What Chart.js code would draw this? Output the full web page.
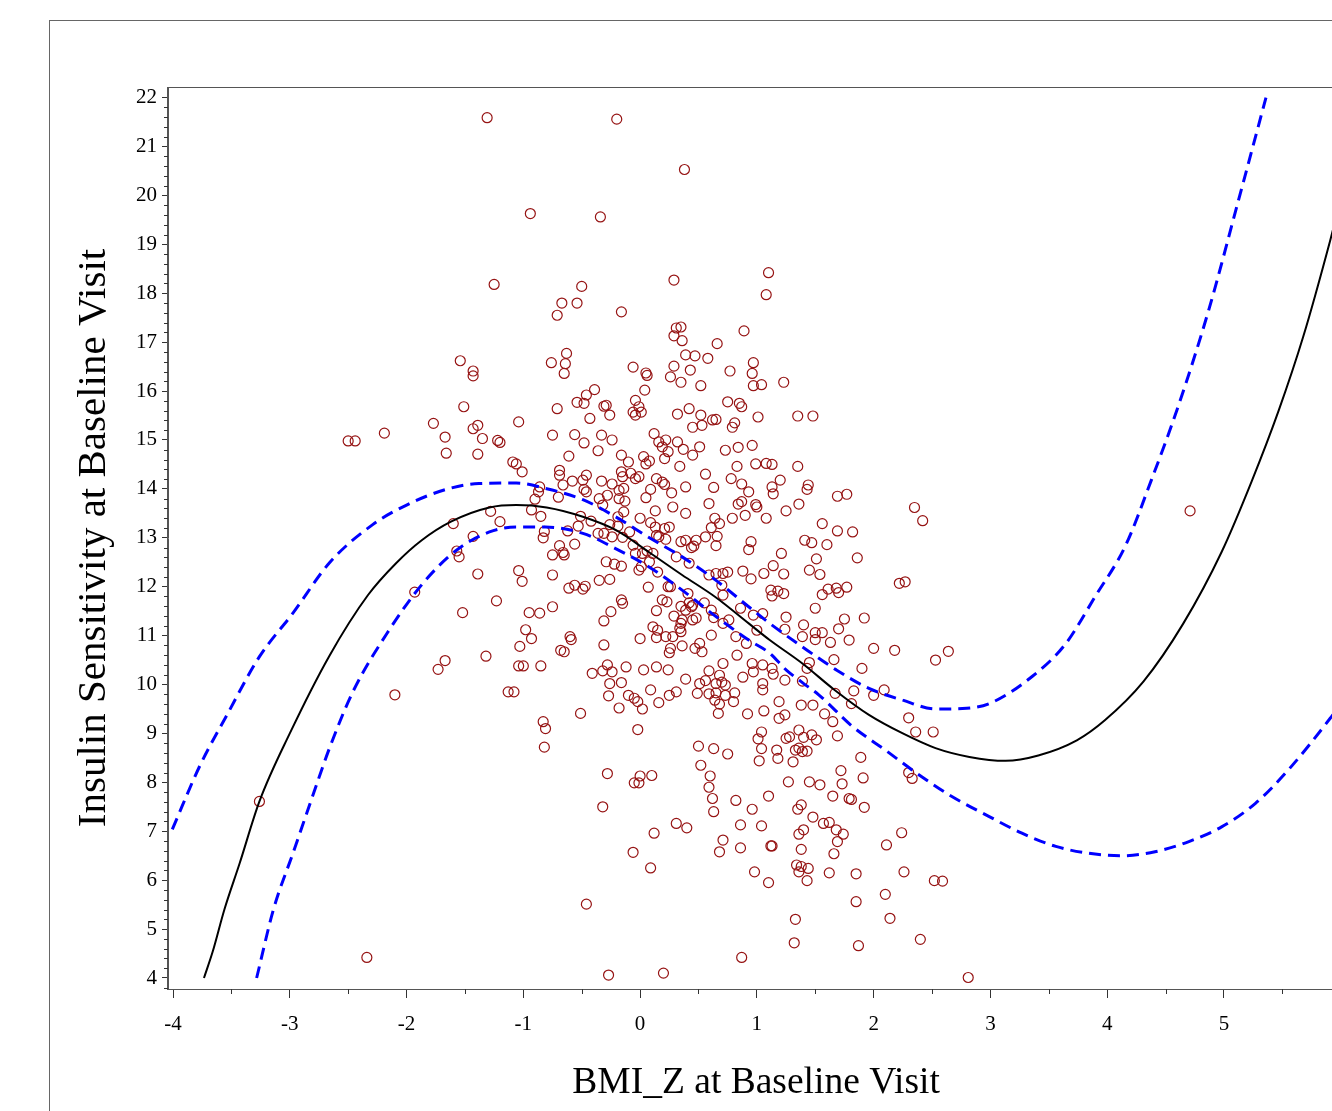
<!DOCTYPE html>
<html lang="en">
<head>
  <meta charset="UTF-8" />
  <title>Insulin Sensitivity vs BMI_Z</title>
  <style>
    html, body {
      margin: 0;
      padding: 0;
      background: #fff;
      overflow: hidden;
    }
    #wrap {
      position: relative;
      width: 1360px;
      height: 1111px;
    }
    canvas {
      display: block;
    }
  </style>
  <script src="https://cdn.jsdelivr.net/npm/chart.js"></script>
</head>
<body>
  <div id="wrap">
    <canvas id="fitChart" width="1360" height="1111"></canvas>
  </div>
  <script>
    // observed subjects: [BMI_Z, insulin sensitivity]
    const obs = [
      [-1.31,21.59],[-0.94,19.63],[-1.25,18.18],[-1.54,16.62],[-1.43,16.41],[-1.43,16.31],
      [-0.20,21.56],[0.38,20.53],[-0.34,19.56],[-0.50,18.14],[-0.67,17.80],[-0.54,17.80],
      [-0.71,17.55],[-0.16,17.62],[0.29,18.27],[1.10,18.42],[1.08,17.97],[0.35,17.31],
      [0.31,17.29],[0.29,17.13],[0.36,17.03],[0.66,16.97],[0.89,17.23],[-0.63,16.77],
      [-0.64,16.56],[-0.65,16.36],[-0.76,16.58],[-0.06,16.49],[0.05,16.37],[0.06,16.32],
      [0.39,16.74],[0.47,16.72],[0.58,16.67],[0.29,16.51],[0.26,16.29],[0.43,16.43],
      [0.35,16.18],[0.77,16.41],[0.97,16.58],[0.96,16.36],[0.97,16.11],[1.04,16.13],
      [0.52,16.11],[-0.39,16.03],[0.04,16.02],[1.23,16.18],
      [-1.51,15.68],[-1.77,15.34],[-2.19,15.14],[-2.50,14.98],[-2.44,14.98],[-1.39,15.30],
      [-1.43,15.23],[-1.67,15.06],[-1.35,15.03],[-1.22,14.99],[-1.20,14.95],[-1.04,15.37],
      [-1.66,14.73],[-1.39,14.71],[-1.09,14.55],[-1.06,14.51],[-1.01,14.35],[-0.86,14.04],
      [-0.87,13.94],[-0.90,13.79],[-0.93,13.57],[-0.85,13.44],[-1.28,13.54],[-1.20,13.33],
      [-1.60,13.29],[-1.43,13.03],[-0.82,13.13],[-0.83,13.00],[-1.57,12.73],[-1.55,12.61],
      [-1.39,12.26],[-1.04,12.33],[-1.01,12.11],[-1.93,11.89],[-1.23,11.71],[-1.52,11.47],
      [-0.95,11.47],[-0.86,11.46],[-0.98,11.12],[-0.93,10.94],[-1.03,10.78],[-1.32,10.58],
      [-1.67,10.49],[-1.73,10.31],[-1.04,10.38],[-1.00,10.38],[-0.85,10.38],
      [-2.10,9.79],[-1.13,9.85],[-1.08,9.85],[-0.83,9.24],[-0.81,9.10],[-0.82,8.72],
      [-2.34,4.42],[-3.26,7.61],[4.71,13.55],
      [-0.46,15.92],[-0.48,15.75],[-0.54,15.77],[-0.71,15.64],[-0.29,15.71],[-0.31,15.69],
      [-0.26,15.51],[-0.43,15.44],[-0.04,15.81],[-0.01,15.68],[-0.06,15.57],[0.01,15.57],
      [-0.04,15.51],[0.32,15.53],[0.42,15.64],[0.52,15.51],[0.53,15.30],[0.45,15.26],
      [0.62,15.41],[0.65,15.42],[0.75,15.78],[0.85,15.75],[0.87,15.68],[0.81,15.35],
      [0.79,15.26],[1.01,15.47],[-0.75,15.10],[-0.56,15.11],[-0.48,14.94],[-0.33,15.10],
      [-0.24,15.00],[-0.36,14.78],[-0.61,14.67],[0.12,15.13],[0.16,14.96],[0.22,15.00],
      [0.19,14.86],[0.24,14.76],[0.32,14.96],[0.37,14.81],[0.21,14.62],[0.45,14.69],
      [0.51,14.86],[0.73,14.79],[0.84,14.85],[0.96,14.89],[1.08,14.52],[-0.16,14.69],
      [-0.10,14.55],[0.03,14.66],[0.08,14.57],[0.05,14.51],[-0.69,14.38],[-0.69,14.28],
      [-0.66,14.08],[-0.58,14.16],[-0.49,14.18],[-0.46,14.28],[-0.48,13.99],[-0.46,13.94],
      [-0.70,13.83],[-0.33,14.16],[-0.24,14.10],[-0.16,14.35],[-0.15,14.25],[-0.08,14.32],
      [-0.04,14.21],[-0.01,14.25],[-0.18,13.97],[-0.14,14.01],[0.14,14.21],[0.19,14.14],
      [0.21,14.09],[0.09,13.99],[0.34,14.46],[0.39,14.04],[0.27,13.92],[0.56,14.30],
      [0.63,14.03],[0.78,14.21],[0.83,14.46],[0.87,14.10],[0.93,13.94],[0.99,14.51],
      [-0.35,13.80],[-0.28,13.87],[-0.32,13.67],[-0.18,13.80],[-0.13,13.75],[-0.14,13.53],
      [-0.19,13.43],[-0.51,13.44],[-0.42,13.34],[-0.53,13.24],[-0.62,13.14],[0.05,13.82],
      [0.13,13.55],[0.28,13.63],[0.39,13.50],[0.00,13.40],[0.09,13.31],[0.13,13.22],
      [0.59,13.70],[0.79,13.40],[0.84,13.69],[0.87,13.74],[0.90,13.46],[0.99,13.68],
      [1.00,13.63],[1.08,13.40],[0.64,13.40],[0.68,13.29],[0.61,13.21],[-0.26,13.27],
      [-0.19,13.24],[-0.31,13.09],[-0.24,13.02],[-0.15,13.01],[-0.09,13.12],[-0.36,13.09],
      [-0.69,12.84],[-0.75,12.65],[-0.66,12.70],[-0.65,12.65],[-0.56,12.87],[0.21,13.19],
      [0.25,13.22],[0.22,12.97],[0.14,13.05],[0.16,13.02],[0.35,12.92],[0.39,12.95],
      [0.48,12.95],[0.46,12.83],[0.44,12.80],[0.56,13.02],[0.65,12.84],[0.66,13.03],
      [0.95,12.92],[0.93,12.76],[-0.06,12.85],[-0.04,12.68],[0.02,12.68],[0.06,12.73],
      [0.11,12.68],[0.31,12.61],[0.42,12.48],[-0.29,12.51],[-0.22,12.46],[-0.16,12.42],
      [0.01,12.41],[-0.01,12.34],[0.08,12.51],[0.15,12.30],[-0.75,12.24],[-0.35,12.13],
      [-0.26,12.15],[-0.61,11.97],[-0.56,12.03],[-0.47,12.01],[-0.49,11.95],[0.07,11.99],
      [0.24,12.00],[0.26,12.00],[0.59,12.24],[0.65,12.27],[0.71,12.27],[0.75,12.30],
      [0.70,12.03],[0.88,12.32],[0.95,12.16],[1.06,12.27],[-0.75,11.59],[-0.16,11.73],
      [-0.15,11.66],[-0.25,11.49],[-0.31,11.30],[0.19,11.73],[0.23,11.69],[0.14,11.51],
      [0.29,11.40],[0.35,11.60],[0.39,11.52],[0.41,11.86],[0.42,11.67],[0.45,11.62],
      [0.44,11.59],[0.55,11.67],[0.48,11.36],[0.45,11.32],[0.71,11.83],[0.71,11.25],
      [0.63,11.37],[0.61,11.52],[0.76,11.32],[0.82,10.98],[0.86,11.56],[0.97,11.42],
      [1.05,11.45],[1.00,11.11],[0.11,11.18],[0.15,11.11],[0.14,10.96],[0.22,10.98],
      [0.28,10.98],[0.34,11.15],[0.35,11.25],[0.36,11.32],[0.35,11.08],[0.00,10.94],
      [-0.31,10.81],[-0.60,10.98],[-0.59,10.92],[-0.68,10.70],[-0.65,10.67],[0.36,10.79],
      [0.26,10.74],[0.25,10.65],[0.47,10.74],[0.53,10.67],[0.61,11.01],[0.51,10.84],
      [0.83,10.60],[0.91,10.84],[-0.41,10.23],[-0.32,10.28],[-0.28,10.40],[-0.24,10.26],
      [-0.12,10.36],[0.03,10.30],[0.14,10.36],[0.24,10.30],[-0.26,10.02],[-0.16,10.04],
      [0.39,10.11],[0.51,10.02],[0.56,10.08],[0.59,10.28],[0.68,10.19],[0.71,10.43],
      [0.65,10.02],[0.70,10.05],[0.73,9.99],[0.88,10.15],[0.96,10.43],[0.97,10.26],
      [1.05,10.40],[1.05,10.02],
      [-0.27,9.77],[-0.10,9.78],[-0.05,9.72],[-0.02,9.65],[0.02,9.50],[-0.18,9.52],
      [-0.51,9.41],[0.09,9.89],[0.16,9.63],[0.25,9.78],[0.31,9.85],[0.49,9.82],
      [0.59,9.81],[0.65,9.83],[0.64,9.68],[0.68,9.60],[0.67,9.41],[0.73,9.78],
      [0.80,9.65],[0.81,9.83],[0.92,9.40],[1.06,9.46],[1.05,9.89],[-0.02,9.08],
      [0.50,8.74],[0.63,8.69],[0.75,8.58],[0.52,8.35],[1.04,9.03],[1.01,8.89],
      [1.04,8.69],[1.02,8.44],[-0.28,8.18],[0.00,8.13],[-0.05,7.99],[-0.01,7.99],
      [0.10,8.14],[0.60,8.13],[0.59,7.90],[0.62,7.67],[0.63,7.40],[0.82,7.63],
      [0.96,7.45],[1.10,7.72],[-0.32,7.50],[0.31,7.16],[0.40,7.07],[0.12,6.96],
      [0.86,7.13],[1.04,7.11],[0.71,6.82],[0.68,6.58],[0.86,6.66],[-0.06,6.57],
      [0.09,6.25],[0.98,6.17],[1.10,5.95],[-0.46,5.51],[0.87,4.42],[-0.27,4.06],
      [0.20,4.10],
      [1.19,9.65],[1.19,9.31],[1.24,9.38],[1.38,9.58],[1.48,9.58],[1.58,9.40],
      [1.65,9.24],[1.67,9.82],[1.81,9.61],[1.83,9.87],[2.00,9.78],[2.09,9.89],
      [2.30,9.32],[2.36,9.03],[2.51,9.03],[1.25,8.90],[1.28,8.93],[1.36,9.07],
      [1.40,8.92],[1.47,8.97],[1.51,8.87],[1.69,8.95],[1.17,8.66],[1.18,8.49],
      [1.31,8.42],[1.33,8.66],[1.36,8.70],[1.39,8.63],[1.43,8.64],[1.89,8.51],
      [1.72,8.24],[1.91,8.09],[1.73,7.97],[1.27,8.01],[1.45,8.01],[1.54,7.95],
      [2.30,8.20],[2.33,8.08],[1.65,7.72],[1.79,7.67],[1.81,7.65],[1.92,7.49],
      [1.35,7.45],[1.38,7.54],[1.48,7.29],[1.57,7.16],[1.62,7.18],[1.68,7.03],
      [1.74,6.94],[1.69,6.79],[1.36,6.94],[1.40,7.03],[2.24,6.97],[2.11,6.72],
      [1.12,6.70],[1.13,6.70],[1.38,6.63],[1.66,6.54],[1.34,6.31],[1.38,6.28],
      [1.36,6.17],[1.44,6.24],[1.43,5.99],[1.62,6.15],[1.85,6.13],[2.26,6.17],
      [2.52,5.99],[2.59,5.98],[2.10,5.71],[1.85,5.56],[1.33,5.20],[2.14,5.22],
      [1.32,4.72],[1.87,4.66],[2.40,4.79],[2.81,4.01],
      [1.35,15.49],[1.48,15.49],[1.13,14.50],[1.35,14.46],[1.20,14.18],[1.13,14.04],
      [1.14,13.90],[1.44,14.08],[1.43,13.99],[1.69,13.85],[1.77,13.89],[1.36,13.69],
      [1.25,13.55],[2.35,13.62],[2.42,13.35],[1.56,13.29],[1.69,13.14],[1.82,13.12],
      [1.41,12.95],[1.47,12.90],[1.60,12.86],[1.21,12.68],[1.86,12.59],[1.51,12.57],
      [1.14,12.43],[1.23,12.26],[1.45,12.34],[1.54,12.25],[2.22,12.07],[2.27,12.10],
      [1.12,11.93],[1.18,11.91],[1.13,11.81],[1.23,11.86],[1.56,11.84],[1.61,11.95],
      [1.68,11.97],[1.70,11.88],[1.77,11.99],[1.50,11.56],[1.25,11.38],[1.92,11.36],
      [1.75,11.34],[1.24,11.13],[1.40,11.22],[1.70,11.14],[1.39,10.98],[1.50,11.06],
      [1.50,10.92],[1.56,11.06],[1.63,10.86],[1.79,10.91],[2.00,10.74],[2.18,10.70],
      [2.53,10.50],[2.64,10.68],[1.66,10.51],[1.90,10.33],[1.45,10.45],[1.43,10.33],
      [1.13,10.33],[1.14,10.21],[1.24,10.09],[1.39,10.07]
    ];

    // cubic fit and its confidence limits
    const fitCurve = [
      [-3.735,4.00],[-3.66,4.54],[-3.56,5.40],[-3.43,6.34],[-3.26,7.61],[-3.00,9.00],
      [-2.66,10.59],[-2.33,11.83],[-2.09,12.48],[-1.87,12.95],[-1.62,13.33],[-1.29,13.62],
      [-1.06,13.67],[-0.80,13.62],[-0.49,13.43],[-0.21,13.16],[0.08,12.70],[0.36,12.24],
      [0.65,11.78],[0.93,11.25],[1.11,10.91],[1.39,10.43],[1.66,9.90],[1.96,9.38],
      [2.25,9.00],[2.53,8.70],[2.82,8.52],[3.13,8.44],[3.41,8.55],[3.74,8.86],
      [3.98,9.27],[4.31,10.06],[4.65,11.24],[4.98,12.71],[5.24,14.17],[5.47,15.61],
      [5.68,17.12],[5.91,19.08],[6.03,20.2]
    ];
    const upperCL = [
      [-4.006,7.04],[-3.77,8.34],[-3.54,9.37],[-3.26,10.57],[-2.97,11.47],[-2.66,12.49],
      [-2.29,13.27],[-2.00,13.67],[-1.66,13.99],[-1.38,14.11],[-1.06,14.12],[-0.81,14.01],
      [-0.49,13.78],[-0.21,13.43],[0.08,13.00],[0.36,12.61],[0.65,12.13],[0.93,11.59],
      [1.11,11.25],[1.39,10.77],[1.68,10.30],[1.96,9.92],[2.25,9.68],[2.53,9.50],
      [2.76,9.51],[2.99,9.61],[3.36,10.17],[3.64,10.82],[3.90,11.81],[4.155,12.83],
      [4.38,14.19],[4.61,15.70],[4.87,17.66],[5.12,19.86],[5.36,22.00]
    ];
    const lowerCL = [
      [-3.284,4.00],[-3.14,5.40],[-2.97,6.57],[-2.80,7.75],[-2.66,8.70],[-2.46,9.85],
      [-2.15,11.11],[-1.86,12.07],[-1.57,12.75],[-1.29,13.12],[-1.06,13.22],[-0.81,13.22],
      [-0.49,13.09],[-0.21,12.78],[0.08,12.40],[0.36,11.93],[0.65,11.39],[0.93,10.91],
      [1.11,10.64],[1.25,10.30],[1.39,10.04],[1.53,9.79],[1.82,9.14],[2.10,8.66],
      [2.39,8.15],[2.67,7.71],[2.99,7.30],[3.27,6.96],[3.56,6.69],[3.84,6.55],
      [4.13,6.50],[4.41,6.58],[4.70,6.79],[4.98,7.09],[5.27,7.57],[5.55,8.25],
      [5.91,9.31],[6.03,9.70]
    ];

    const xTicks = [-4, -3, -2, -1, 0, 1, 2, 3, 4, 5, 6];
    const yTicks = [4, 5, 6, 7, 8, 9, 10, 11, 12, 13, 14, 15, 16, 17, 18, 19, 20, 21, 22];

    const serif = 'Liberation Serif, Times New Roman, serif';
    const toPts = arr => arr.map(p => ({ x: p[0], y: p[1] }));

    // outer graph border, plot frame and the minor tick marks
    const framePlugin = {
      id: 'frame',
      beforeDraw(chart) {
        const ctx = chart.ctx;
        ctx.save();
        ctx.strokeStyle = '#666';
        ctx.lineWidth = 1;
        ctx.strokeRect(49.5, 20.5, 3000, 3000);
        ctx.restore();
      },
      afterDraw(chart) {
        const { ctx, chartArea: a, scales } = chart;
        ctx.save();
        ctx.strokeStyle = '#555';
        ctx.lineWidth = 1;
        ctx.strokeRect(Math.round(a.left) - 0.5, Math.round(a.top) + 0.5,
          a.right - a.left + 1, a.bottom - a.top);
        ctx.strokeStyle = '#333';
        ctx.beginPath();
        for (let i = 19; i <= 110; i++) {
          if (i % 5 === 0) continue;
          const py = Math.round(scales.y.getPixelForValue(i / 5)) + 0.5;
          ctx.moveTo(a.left, py);
          ctx.lineTo(a.left - 4, py);
        }
        for (let i = -7; i <= 11; i += 2) {
          const px = Math.round(scales.x.getPixelForValue(i / 2)) + 0.5;
          ctx.moveTo(px, a.bottom);
          ctx.lineTo(px, a.bottom + 5);
        }
        ctx.stroke();
        ctx.restore();
      }
    };

    new Chart(document.getElementById('fitChart'), {
      type: 'scatter',
      data: {
        datasets: [
          {
            label: 'Observed',
            data: toPts(obs),
            showLine: false,
            pointStyle: 'circle',
            pointRadius: 5,
            pointBorderWidth: 1.2,
            pointBorderColor: '#961414',
            pointBackgroundColor: 'rgba(0,0,0,0)',
            order: 3
          },
          {
            type: 'line',
            label: 'Fit',
            data: toPts(fitCurve),
            borderColor: '#000',
            borderWidth: 2,
            pointRadius: 0,
            fill: false,
            cubicInterpolationMode: 'monotone',
            order: 1
          },
          {
            type: 'line',
            label: 'Upper CL',
            data: toPts(upperCL),
            borderColor: '#0000ff',
            borderWidth: 3,
            borderDash: [12, 7],
            pointRadius: 0,
            fill: false,
            cubicInterpolationMode: 'monotone',
            order: 2
          },
          {
            type: 'line',
            label: 'Lower CL',
            data: toPts(lowerCL),
            borderColor: '#0000ff',
            borderWidth: 3,
            borderDash: [12, 7],
            pointRadius: 0,
            fill: false,
            cubicInterpolationMode: 'monotone',
            order: 2
          }
        ]
      },
      options: {
        responsive: false,
        animation: false,
        devicePixelRatio: 1,
        layout: { padding: { left: 0, top: 87, right: 14, bottom: 0 } },
        plugins: {
          legend: { display: false },
          tooltip: { enabled: false }
        },
        scales: {
          x: {
            type: 'linear',
            min: -4.043,
            max: 6.03,
            afterBuildTicks: s => { s.ticks = xTicks.map(v => ({ value: v })); },
            afterFit: s => { s.height = 122; },
            grid: { drawOnChartArea: false, drawTicks: true, tickLength: 9, tickColor: '#333' },
            border: { display: true, color: '#555' },
            ticks: {
              autoSkip: false,
              maxRotation: 0,
              padding: 14,
              color: '#000',
              font: { family: serif, size: 21 },
              callback: v => String(v)
            },
            title: {
              display: true,
              text: 'BMI_Z at Baseline Visit',
              color: '#000',
              font: { family: serif, size: 37.5, lineHeight: 1 },
              padding: { top: 0, bottom: 9 }
            }
          },
          y: {
            type: 'linear',
            min: 3.775,
            max: 22.217,
            afterBuildTicks: s => { s.ticks = yTicks.map(v => ({ value: v })); },
            afterFit: s => { s.width = 168; },
            grid: { drawOnChartArea: false, drawTicks: true, tickLength: 6, tickColor: '#333' },
            border: { display: true, color: '#555' },
            ticks: {
              autoSkip: false,
              padding: 5,
              color: '#000',
              font: { family: serif, size: 21 },
              callback: v => String(v)
            },
            title: {
              display: true,
              text: 'Insulin Sensitivity at Baseline Visit',
              color: '#000',
              font: { family: serif, size: 41, lineHeight: 1 },
              padding: { top: 74, bottom: 0 }
            }
          }
        }
      },
      plugins: [framePlugin]
    });
  </script>
</body>
</html>
